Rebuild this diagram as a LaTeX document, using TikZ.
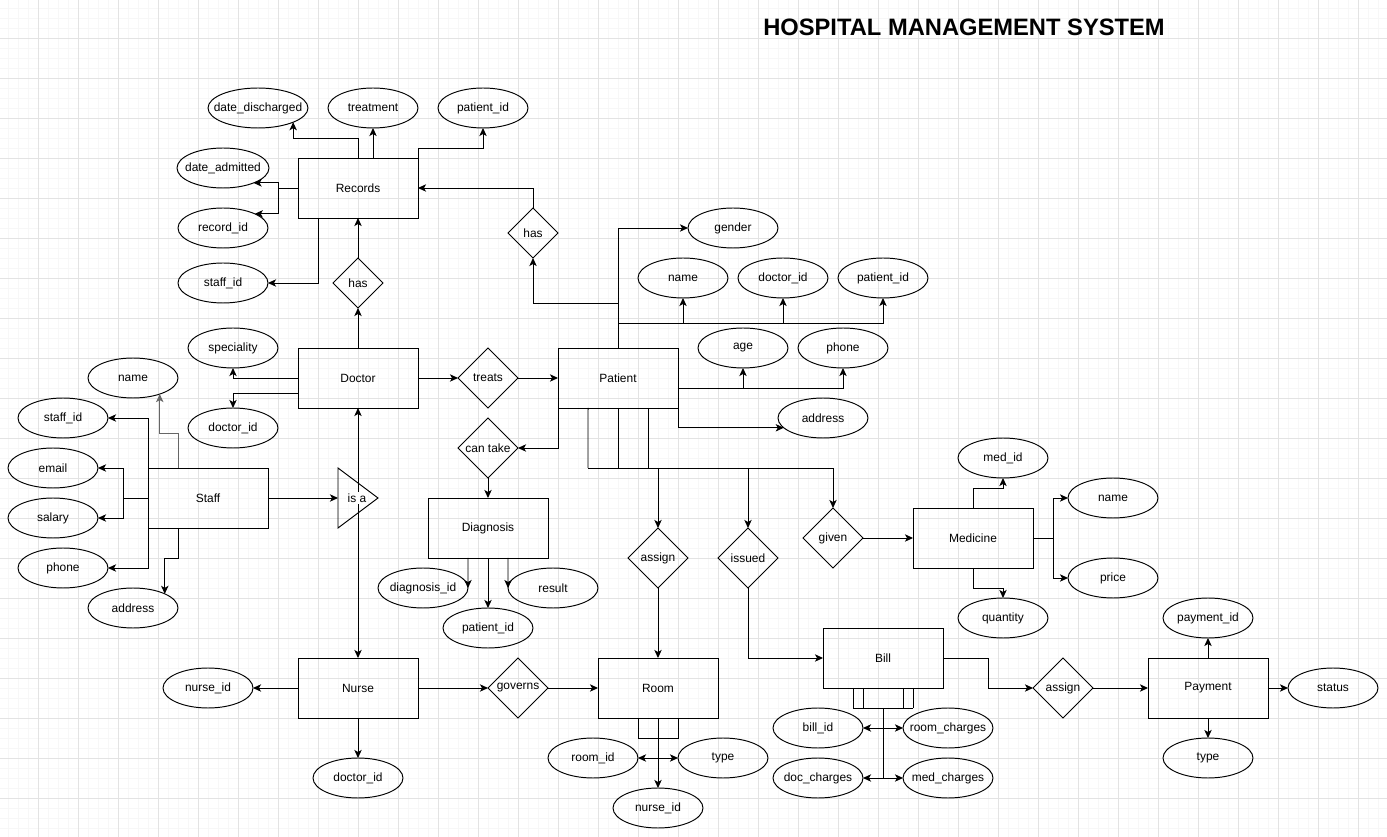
\documentclass[tikz,border=0pt]{standalone}
\usepackage{fontspec}
\setmainfont{Liberation Sans}
\usepackage{tikz}
\usetikzlibrary{calc,shapes.geometric,arrows.meta}

\tikzset{
  ent/.style={draw, rectangle, minimum width=2.4cm, minimum height=1.2cm, inner sep=0, outer sep=0},
  attr/.style={draw, ellipse, minimum width=1.8cm, minimum height=0.8cm, inner sep=0, inner xsep=-6pt, outer sep=0},
  rel/.style={draw, diamond, minimum width=1.2cm, minimum height=1.2cm, inner sep=0, inner xsep=-3pt, outer sep=0},
  smallrel/.style={rel, minimum width=1cm, minimum height=1cm},
  isatri/.style={draw, isosceles triangle, isosceles triangle stretches, minimum width=1.2cm, minimum height=0.8cm, inner sep=0, outer sep=0},
  arr/.style={-{Stealth[length=4.6pt,width=4.2pt,inset=1.2pt]}},
  darr/.style={{Stealth[length=4.6pt,width=4.2pt,inset=1.2pt]}-{Stealth[length=4.6pt,width=4.2pt,inset=1.2pt]}},
  gminor/.style={draw=black!3, line width=0.3pt},
  gmajor/.style={draw=black!11, line width=0.3pt}
}

\begin{document}
\begin{tikzpicture}[x=0.02cm, y=-0.02cm, line width=0.55pt,
  every node/.style={font=\fontsize{6.8}{8}\selectfont}]
\useasboundingbox (0,0) rectangle (1387,837);
\fill[white] (0,0) rectangle (1387,837);

% background grid
\foreach \g in {8,18,...,1380} \draw[gminor] (\g,0) -- (\g,837);
\foreach \g in {8,18,...,830} \draw[gminor] (0,\g) -- (1387,\g);
\foreach \g in {38,78,...,1380} \draw[gmajor] (\g,0) -- (\g,837);
\foreach \g in {38,78,...,830} \draw[gmajor] (0,\g) -- (1387,\g);

% title
\node[font=\fontsize{13.5}{16}\selectfont\bfseries] (title) at (964,27) {HOSPITAL MANAGEMENT SYSTEM};

% entities
\node[ent] (rec) at (358,188) {Records};
\node[ent] (doc) at (358,378) {Doctor};
\node[ent] (stf) at (208,498) {Staff};
\node[ent] (pat) at (618,378) {Patient};
\node[ent] (dia) at (488,528) {Diagnosis};
\node[ent] (med) at (973,538) {Medicine};
\node[ent] (nur) at (358,688) {Nurse};
\node[ent] (room) at (658,688) {Room};
\node[ent] (bill) at (883,658) {Bill};
\node[ent] (pay) at (1208,688) {Payment};

% relationships
\node[smallrel] (has1) at (358,283) {has};
\node[smallrel] (has2) at (533,233) {has};
\node[rel] (treats) at (488,378) {treats};
\node[rel] (ctake) at (488,448) {can take};
\node[rel] (asg1) at (658,558) {assign};
\node[rel] (iss) at (748,558) {issued};
\node[rel] (given) at (833,538) {given};
\node[rel] (gov) at (518,688) {governs};
\node[rel] (asg2) at (1063,688) {assign};
\node[isatri, anchor=west] (isa) at (338,498) {};

% attributes
\node[attr, minimum width=2cm] (recdis) at (258,108) {date\_discharged};
\node[attr] (rectreat) at (373,108) {treatment};
\node[attr] (recpid) at (483,108) {patient\_id};
\node[attr, minimum width=1.84cm] (recadm) at (223,168) {date\_admitted};
\node[attr] (recid) at (223,228) {record\_id};
\node[attr] (recsid) at (223,283) {staff\_id};
\node[attr] (patgen) at (733,228) {gender};
\node[attr] (patname) at (683,278) {name};
\node[attr] (patdid) at (783,278) {doctor\_id};
\node[attr] (patpid) at (883,278) {patient\_id};
\node[attr] (patage) at (743,348) {age};
\node[attr] (patphone) at (843,348) {phone};
\node[attr] (pataddr) at (823,418) {address};
\node[attr] (docspec) at (233,348) {speciality};
\node[attr] (docid) at (233,428) {doctor\_id};
\node[attr] (stfname) at (133,378) {name};
\node[attr] (stfid) at (63,418) {staff\_id};
\node[attr] (stfmail) at (53,468) {email};
\node[attr] (stfsal) at (53,518) {salary};
\node[attr] (stfphone) at (63,568) {phone};
\node[attr] (stfaddr) at (133,608) {address};
\node[attr] (diaid) at (423,588) {diagnosis\_id};
\node[attr] (diares) at (553,588) {result};
\node[attr] (diapid) at (488,628) {patient\_id};
\node[attr] (medid) at (1003,458) {med\_id};
\node[attr] (medname) at (1113,498) {name};
\node[attr] (medprice) at (1113,578) {price};
\node[attr] (medqty) at (1003,618) {quantity};
\node[attr] (nurid) at (208,688) {nurse\_id};
\node[attr] (nurdid) at (358,778) {doctor\_id};
\node[attr] (roomid) at (593,758) {room\_id};
\node[attr] (roomtype) at (723,758) {type};
\node[attr] (roomnid) at (658,808) {nurse\_id};
\node[attr] (billid) at (818,728) {bill\_id};
\node[attr] (billroom) at (948,728) {room\_charges};
\node[attr] (billdoc) at (818,778) {doc\_charges};
\node[attr] (billmed) at (948,778) {med\_charges};
\node[attr] (payid) at (1208,618) {payment\_id};
\node[attr] (paystat) at (1333,688) {status};
\node[attr] (paytype) at (1208,758) {type};

% Records
\draw[arr] (rec.north) -- ++(0,-20) -| (recdis.-22);
\draw[arr] (rec.north -| rectreat) -- (rectreat);
\draw[arr] (rec.north east) -- ++(0,-10) -| (recpid);
\draw[arr] (rec.west) -- ++(-20,0) |- (recadm.-26);
\draw[arr] (rec.west) -- ++(-20,0) |- (recid.24);
\draw[arr] ($(rec.south west)+(20,0)$) |- (recsid);
\draw[arr] (has1.north) -- (rec.south);
\draw[arr] (doc.north) -- (has1.south);
\draw[arr] (has2.north) |- (rec.east);

% Patient
\draw[arr] (pat.north) -- ++(0,-45) -| (has2.south);
\draw[arr] (pat.north) |- (patgen);
\draw[arr] (pat.north) -- ++(0,-25) -| (patname);
\draw[arr] (pat.north) -- ++(0,-25) -| (patdid);
\draw[arr] (pat.north) -- ++(0,-25) -| (patpid);
\draw[arr] ($(pat.east)+(0,10)$) -| (patage);
\draw[arr] ($(pat.east)+(0,10)$) -| (patphone);
\draw[arr] (pat.south east) |- (pataddr.194);
\draw[arr] (pat.south west) |- (ctake);
\draw[arr] (ctake.south) -- (dia.north);
\draw[arr] (doc.east) -- (treats.west);
\draw[arr] (treats.east) -- (pat.west);

\coordinate (pbus) at (588,468);
\draw ($(pat.south west)+(30,0)$) -- (pbus);
\draw (pat.south) -- (pat.south |- pbus);
\draw ($(pat.south east)+(-30,0)$) -- ++(0,60);
\draw[arr] (pbus) -| (given.north);
\draw[arr] (asg1.north |- pbus) -- (asg1.north);
\draw[arr] (iss.north |- pbus) -- (iss.north);
\draw[arr] (asg1.south) -- (room.north);
\draw[arr] (iss.south) |- (bill.west);
\draw[arr] (given.east) -- (med.west);

% Diagnosis
\draw[arr] ($(dia.south)+(-20,0)$) -- (diaid.east);
\draw[arr] ($(dia.south)+(20,0)$) -- (diares.west);
\draw[arr] (dia.south) -- (diapid.north);

% Doctor and Staff
\draw[arr] (doc.west) -| (docspec);
\draw[arr] ($(doc.west)+(0,15)$) -| (docid);
\draw[arr] (stf.east) -- (isa.west);
\draw[arr] (doc.south |- isa.center) -- (doc.south);
\draw[arr] (doc.south |- isa.center) -- (nur.north);
\node[fill=white, inner sep=1pt] (isatxt) at (357,498) {is a};
\draw[arr, black!60] ($(stf.north west)+(30,0)$) -- ++(0,-35) -| (stfname.-31);
\draw[arr] (stf.north west) |- (stfid);
\draw[arr] (stf.south west) |- (stfphone);
\draw[arr] (stf.west) -- ++(-25,0) |- (stfmail);
\draw[arr] (stf.west) -- ++(-25,0) |- (stfsal);
\draw[arr] ($(stf.south west)+(30,0)$) -- ++(0,30) -| (stfaddr.24);

% Nurse and Room
\draw[arr] (nur.west) -- (nurid.east);
\draw[arr] (nur.south) -- (nurdid.north);
\draw[arr] (nur.east) -- (gov.west);
\draw[arr] (gov.east) -- (room.west);
\draw ($(room.south)+(-20,0)$) -- ++(0,20) -- ++(40,0) -- ++(0,-20);
\draw[arr] (room.south) -- (roomnid.north);
\draw[darr] (roomid.east) -- (roomtype.west);

% Medicine
\draw[arr] (med.north) -- ++(0,-20) -| (medid);
\draw[arr] (med.south) -- ++(0,20) -| (medqty);
\draw[arr] (med.east) -- ++(20,0) |- (medname);
\draw[arr] (med.east) -- ++(20,0) |- (medprice);

% Bill and Payment
\foreach \dx in {-30,-20,20,30}
  \draw ($(bill.south)+(\dx,0)$) -- ++(0,20);
\draw ($(bill.south)+(-30,20)$) -- ++(60,0);
\draw ($(bill.south)+(0,20)$) -- ($(bill.south)+(0,90)$);
\draw[darr] (billid.east) -- (billroom.west);
\draw[darr] (billdoc.east) -- (billmed.west);
\draw[arr] (bill.east) -- ++(45,0) |- (asg2.west);
\draw[arr] (asg2.east) -- (pay.west);
\draw[arr] (pay.north) -- (payid.south);
\draw[arr] (pay.south) -- (paytype.north);
\draw[arr] (pay.east) -- (paystat.west);
\end{tikzpicture}
\end{document}
